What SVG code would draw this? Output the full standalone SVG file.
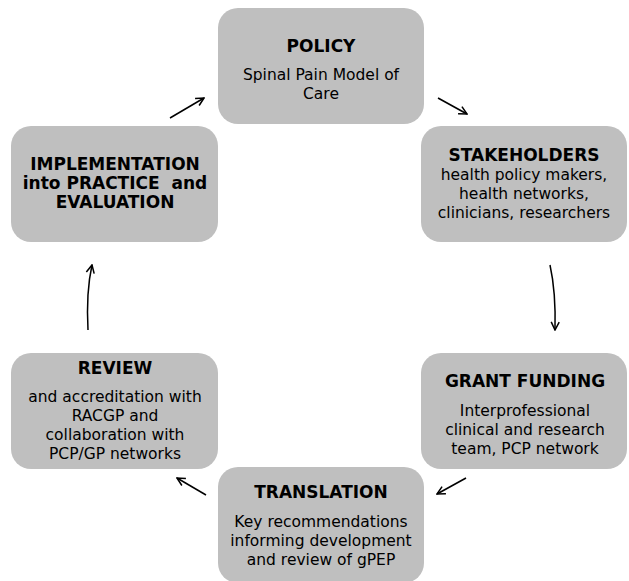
<svg xmlns="http://www.w3.org/2000/svg" width="629" height="581" viewBox="0 0 629 581">
  <defs>
    <marker id="head" viewBox="0 0 10 10" refX="9" refY="5" markerWidth="10" markerHeight="10" markerUnits="userSpaceOnUse" orient="auto">
      <path d="M1,1 L9,5 L1,9" fill="none" stroke="#000" stroke-width="1.5"/>
    </marker>
  </defs>
  <style>
    .box { fill: #bfbfbf; }
    .t { font-family: "DejaVu Sans", Verdana, sans-serif; font-size: 15.5px; fill: #000; text-anchor: middle; }
    .h { font-weight: bold; font-size: 17px; }
    .link { fill: none; stroke: #000; stroke-width: 1.5; marker-end: url(#head); }
  </style>
  <rect width="629" height="581" fill="#fff"/>

  <g id="policy">
    <rect class="box" x="218" y="8" width="206" height="116" rx="20"/>
    <text class="t h" x="321" y="52">POLICY</text>
    <text class="t" x="321" y="80">Spinal Pain Model of</text>
    <text class="t" x="321" y="99">Care</text>
  </g>

  <g id="stakeholders">
    <rect class="box" x="421" y="126" width="206" height="116" rx="20"/>
    <text class="t h" x="524" y="161">STAKEHOLDERS</text>
    <text class="t" x="524" y="180">health policy makers,</text>
    <text class="t" x="524" y="199">health networks,</text>
    <text class="t" x="524" y="218">clinicians, researchers</text>
  </g>

  <g id="grant-funding">
    <rect class="box" x="421" y="353" width="206" height="116" rx="20"/>
    <text class="t h" x="525" y="387">GRANT FUNDING</text>
    <text class="t" x="525" y="416">Interprofessional</text>
    <text class="t" x="525" y="435">clinical and research</text>
    <text class="t" x="525" y="454">team, PCP network</text>
  </g>

  <g id="translation">
    <rect class="box" x="218" y="467" width="206" height="116" rx="20"/>
    <text class="t h" x="321" y="498">TRANSLATION</text>
    <text class="t" x="321" y="527">Key recommendations</text>
    <text class="t" x="321" y="546">informing development</text>
    <text class="t" x="321" y="565">and review of gPEP</text>
  </g>

  <g id="review">
    <rect class="box" x="11" y="353" width="207" height="116" rx="20"/>
    <text class="t h" x="115" y="374">REVIEW</text>
    <text class="t" x="115" y="402">and accreditation with</text>
    <text class="t" x="115" y="421">RACGP and</text>
    <text class="t" x="115" y="440">collaboration with</text>
    <text class="t" x="115" y="459">PCP/GP networks</text>
  </g>

  <g id="implementation">
    <rect class="box" x="11" y="126" width="207" height="116" rx="20"/>
    <text class="t h" x="115" y="170">IMPLEMENTATION</text>
    <text class="t h" x="115" y="189" xml:space="preserve">into PRACTICE  and</text>
    <text class="t h" x="115" y="208">EVALUATION</text>
  </g>

  <g id="connectors">
    <path class="link" d="M438,98 L467,114"/>
    <path class="link" d="M550,265 Q556,292 555,330"/>
    <path class="link" d="M466,478 L437,494"/>
    <path class="link" d="M206,495 L177,478"/>
    <path class="link" d="M88,330 Q86,292 92,265"/>
    <path class="link" d="M170,118 L204,98"/>
  </g>
</svg>
